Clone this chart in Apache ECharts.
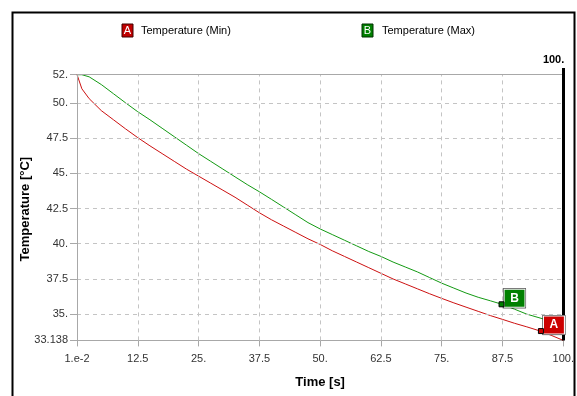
<!DOCTYPE html>
<html>
<head>
<meta charset="utf-8">
<script src="https://cdn.jsdelivr.net/npm/echarts@6/dist/echarts.min.js"></script>
<style>
html,body{margin:0;padding:0;background:#fff;}
#chart{width:577px;height:396px;}
</style>
</head>
<body>
<div id="chart"></div>
<script>
// ---- data ----
const timeValues = [0.01, 1, 2.5, 5, 7.5, 10, 12.5, 15, 17.5, 20, 22.5, 25, 27.5, 30, 32.5, 35, 37.5, 40, 42.5, 45, 47.5, 50, 52.5, 55, 57.5, 60, 62.5, 65, 67.5, 70, 72.5, 75, 77.5, 80, 82.5, 85, 87.5, 90, 92.5, 95, 97.5, 100];
const tempMin = [52, 51.0, 50.3, 49.45, 48.8, 48.15, 47.53, 46.95, 46.4, 45.85, 45.3, 44.8, 44.3, 43.8, 43.3, 42.75, 42.2, 41.7, 41.25, 40.8, 40.35, 39.95, 39.5, 39.1, 38.7, 38.3, 37.9, 37.5, 37.15, 36.8, 36.45, 36.12, 35.8, 35.5, 35.2, 34.9, 34.63, 34.35, 34.1, 33.83, 33.5, 33.138];
const tempMax = [52, 52.0, 51.85, 51.3, 50.65, 50.0, 49.37, 48.8, 48.2, 47.6, 47.0, 46.4, 45.85, 45.3, 44.75, 44.2, 43.69, 43.15, 42.6, 42.05, 41.5, 41.05, 40.65, 40.25, 39.85, 39.45, 39.1, 38.7, 38.35, 38.0, 37.6, 37.2, 36.85, 36.5, 36.2, 35.95, 35.69, 35.35, 35.0, 34.75, 34.5, 34.2];
const xTickStep = 12.5;
const xMin = 0, xMax = 100;
const yTicks = [33.138, 35, 37.5, 40, 42.5, 45, 47.5, 50, 52];
const yMin = 33.138, yTop = 52;
const probeA = [95.4, 33.8];
const probeB = [87.3, 35.7];
const cursorTime = 100;
const seriesNames = ['Temperature (Min)', 'Temperature (Max)'];
const axisNames = { x: 'Time [s]', y: 'Temperature [°C]' };

// ---- layout / style ----
const RED = '#cc1111', GREEN = '#139a13', GRID = '#c4c4c4', AXIS = '#a8a8a8';
const yHead = 52.476; // axis max giving headroom for cursor line
const FONT = 'Liberation Sans';

function fmtNum(v) {
  if (Math.abs(v - 0) < 1e-9) return '1.e-2';
  return Number.isInteger(v) ? v + '.' : String(v);
}

const xGridVals = [];
for (let v = xMin + xTickStep; v < xMax - 1e-9; v += xTickStep) xGridVals.push(v);

const gridLines = [];
yTicks.filter(v => v > yMin + 0.01 && v < yTop - 0.01).forEach(v => {
  gridLines.push([{ coord: [xMin, v] }, { coord: [xMax, v] }]);
});
xGridVals.forEach(v => {
  gridLines.push([{ coord: [v, yMin] }, { coord: [v, yTop] }]);
});

function probe(coord, color, letter, off) {
  return [
    { coord: coord, symbol: 'rect', symbolSize: [23, 20], symbolOffset: off, itemStyle: { color: '#000' }, label: { show: false } },
    { coord: coord, symbol: 'rect', symbolSize: [21, 18], symbolOffset: off,
      itemStyle: { color: color, borderColor: '#fff', borderWidth: 1 },
      label: { show: true, position: 'inside', formatter: letter, color: '#fff', fontFamily: FONT, fontSize: 12, fontWeight: 'bold' } },
    { coord: coord, symbol: 'rect', symbolSize: 5, itemStyle: { color: color, borderColor: '#000', borderWidth: 1 }, label: { show: false } }
  ];
}

const chart = echarts.init(document.getElementById('chart'), null, { renderer: 'canvas' });
chart.setOption({
  animation: false,
  backgroundColor: '#fff',
  textStyle: { fontFamily: FONT },
  grid: { left: 77, right: 11.5, top: 68, bottom: 55.6, containLabel: false },
  xAxis: {
    type: 'value', min: xMin, max: xMax, interval: xTickStep,
    name: axisNames.x, nameLocation: 'middle', nameGap: 36, nameMoveOverlap: false,
    nameTextStyle: { fontFamily: FONT, fontSize: 13, fontWeight: 'bold', color: '#000' },
    axisLine: { show: true, lineStyle: { color: AXIS, width: 1 } },
    axisTick: { show: true, length: 6, lineStyle: { color: AXIS } },
    axisLabel: { margin: 13, fontSize: 11, color: '#333', fontFamily: FONT, formatter: fmtNum },
    splitLine: { show: false }
  },
  yAxis: {
    type: 'value', min: yMin, max: yHead,
    name: axisNames.y, nameLocation: 'middle', nameGap: 45, nameRotate: 90, nameMoveOverlap: false,
    nameTextStyle: { fontFamily: FONT, fontSize: 13, fontWeight: 'bold', color: '#000', padding: [0, 10, 0, 0] },
    axisLine: { show: false },
    axisTick: { show: true, length: 7, lineStyle: { color: AXIS }, customValues: yTicks },
    axisLabel: { margin: 9, fontSize: 11, color: '#333', fontFamily: FONT, customValues: yTicks, formatter: fmtNum },
    splitLine: { show: false }
  },
  graphic: [
    { type: 'rect', shape: { x: 12.5, y: 12.5, width: 562, height: 400 }, style: { fill: 'none', stroke: '#000', lineWidth: 2 }, silent: true },
    { type: 'rect', shape: { x: 122, y: 24, width: 11, height: 13 }, style: { fill: '#c00000', stroke: '#400000', lineWidth: 1 } },
    { type: 'text', x: 127.5, y: 30.5, style: { text: 'A', fill: '#fff', font: '11px ' + FONT, align: 'center', verticalAlign: 'middle' } },
    { type: 'text', x: 141, y: 31, style: { text: seriesNames[0], fill: '#000', font: '11px ' + FONT, verticalAlign: 'middle' } },
    { type: 'rect', shape: { x: 362, y: 24, width: 11, height: 13 }, style: { fill: '#008000', stroke: '#003000', lineWidth: 1 } },
    { type: 'text', x: 367.5, y: 30.5, style: { text: 'B', fill: '#fff', font: '11px ' + FONT, align: 'center', verticalAlign: 'middle' } },
    { type: 'text', x: 382, y: 31, style: { text: seriesNames[1], fill: '#000', font: '11px ' + FONT, verticalAlign: 'middle' } }
  ],
  series: [
    {
      name: 'gridlines', type: 'line', data: [], z: 1, silent: true,
      markLine: {
        silent: true, symbol: ['none', 'none'], animation: false,
        label: { show: false },
        lineStyle: { color: GRID, type: [4, 4], width: 1 },
        data: gridLines.concat([
          [{ coord: [xMin, yTop], lineStyle: { color: AXIS, type: 'solid' } }, { coord: [xMax, yTop] }],
          [{ coord: [xMin, yMin], lineStyle: { color: AXIS, type: 'solid' } }, { coord: [xMin, yTop] }]
        ])
      }
    },
    {
      name: seriesNames[0], type: 'line', z: 3, showSymbol: false, smooth: false,
      lineStyle: { color: RED, width: 1 }, itemStyle: { color: RED },
      data: timeValues.map((t, i) => [t, tempMin[i]]),
      markLine: {
        silent: true, symbol: ['none', 'none'], animation: false,
        label: { show: false },
        lineStyle: { color: '#000', type: 'solid', width: 3 },
        data: [[{ coord: [cursorTime, yMin] }, { coord: [cursorTime, yHead] }]]
      },
      markPoint: {
        silent: true, animation: false,
        data: probe(probeA, '#cc0000', 'A', [13, -6]).concat([
          { coord: [cursorTime, yHead], symbol: 'rect', symbolSize: 0.01,
            label: { show: true, position: 'left', distance: 0, offset: [1, -8], formatter: fmtNum(cursorTime), color: '#000', fontFamily: FONT, fontSize: 11, fontWeight: 'bold' } }
        ])
      }
    },
    {
      name: seriesNames[1], type: 'line', z: 3, showSymbol: false, smooth: false,
      lineStyle: { color: GREEN, width: 1 }, itemStyle: { color: GREEN },
      data: timeValues.map((t, i) => [t, tempMax[i]]),
      markPoint: {
        silent: true, animation: false,
        data: probe(probeB, '#008000', 'B', [13, -6])
      }
    }
  ]
});
</script>
</body>
</html>
